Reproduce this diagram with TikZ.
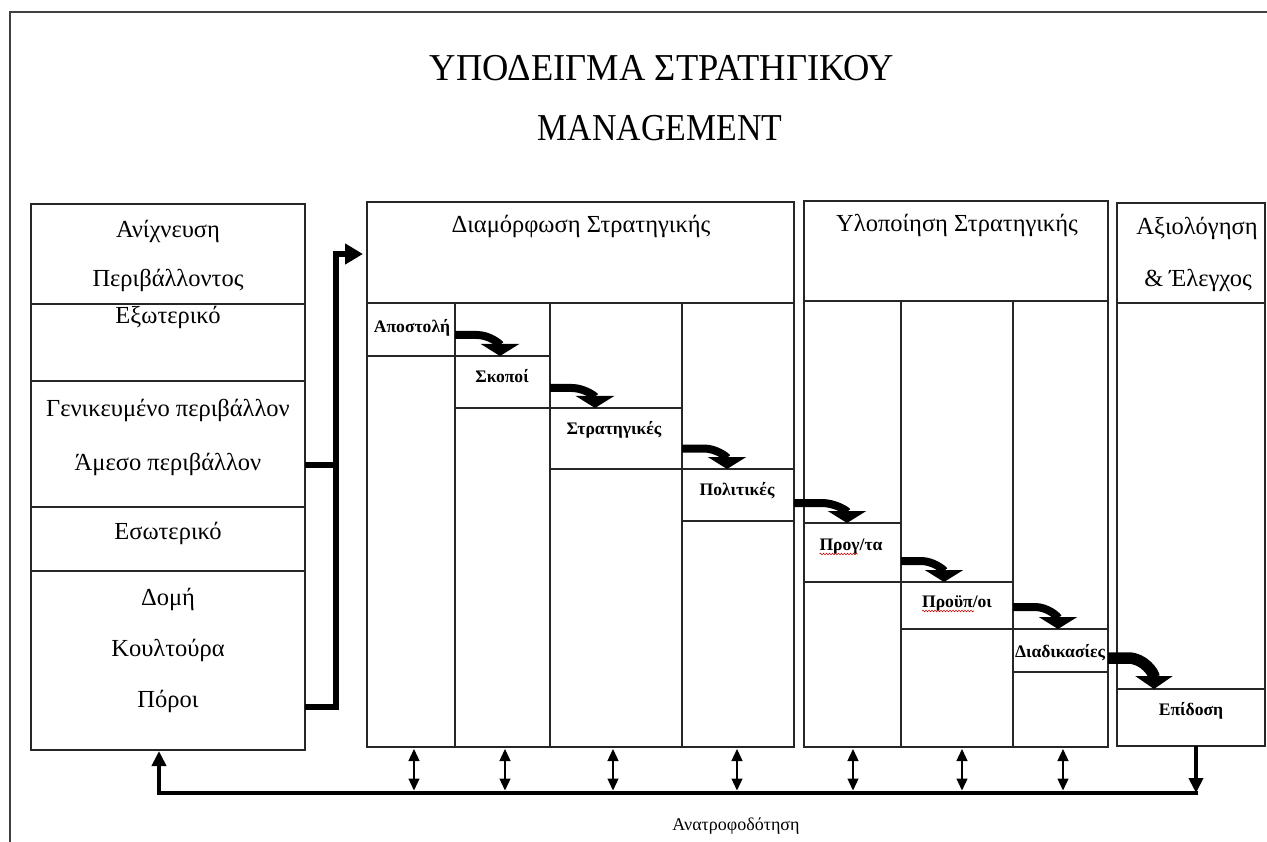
\documentclass[tikz,border=0pt]{standalone}
\usepackage{fontspec}
\setmainfont{Liberation Serif}
\usetikzlibrary{arrows.meta,decorations.pathmorphing,calc}
\newcommand\cellbox[5]{\node[cell,minimum width=#4pt,minimum height=#5pt] (#1) at (#2,#3) {};}
\begin{document}
\begin{tikzpicture}[x=1pt,y=-1pt,
 every node/.style={inner sep=0pt,outer sep=0pt},
 frame/.style={draw=black!75,line width=1.8pt},
 cell/.style={draw=black!85,line width=1.2pt,anchor=north west},
 txt/.style={font=\fontsize{24.5}{29}\selectfont,anchor=base},
 btxt/.style={font=\fontsize{17.6}{21}\selectfont\bfseries,anchor=base},
 ttl/.style={font=\fontsize{38}{44}\selectfont,anchor=center},
 stair/.style={line width=8pt,-{Triangle[width=38pt,length=12pt]}},
 bigstair/.style={line width=11.5pt,-{Triangle[width=37pt,length=13pt]}},
 conn/.style={line width=6pt,line join=miter},
 feed/.style={line width=4.5pt,line join=miter},
 both/.style={line width=1.3pt,{Triangle[width=11pt,length=12pt]}-{Triangle[width=11pt,length=12pt]},shorten <=2pt},
 squig/.style={draw=red!80!black,line width=0.6pt,decorate,decoration={snake,amplitude=0.8pt,segment length=3pt}}]
\useasboundingbox (0,0) rectangle (1267,842);
% outer frame
\draw[frame] (10,842) -- (10,12) -- (1267,12);
% title
\node[ttl] (title1) at (662,68) {\scalebox{0.96}[1]{ΥΠΟΔΕΙΓΜΑ ΣΤΡΑΤΗΓΙΚΟΥ}};
\node[ttl] (title2) at (660,128) {\scalebox{0.89}[1]{MANAGEMENT}};
% left box
\cellbox{L1}{31}{204}{274}{100}
\cellbox{L2}{31}{304}{274}{77}
\cellbox{L3}{31}{381}{274}{126}
\cellbox{L4}{31}{507}{274}{64}
\cellbox{L5}{31}{571}{274}{179}
\node[txt] (anix) at (168,238) {Ανίχνευση};
\node[txt] (peri) at (168,287) {Περιβάλλοντος};
\node[txt] (exot) at (168,324) {Εξωτερικό};
\node[txt] (gen) at (168,416) {Γενικευμένο περιβάλλον};
\node[txt] (amesos) at (168,470) {Άμεσο περιβάλλον};
\node[txt] (esot) at (168,539) {Εσωτερικό};
\node[txt] (domi) at (168,605) {Δομή};
\node[txt] (koul) at (168,656) {Κουλτούρα};
\node[txt] (poroi) at (168,707) {Πόροι};
% formulation box
\cellbox{Dh}{367}{202}{427}{101}
\cellbox{Dc1}{367}{303}{88}{444}
\cellbox{Dc2}{455}{303}{95}{444}
\cellbox{Dc3}{550}{303}{132}{444}
\cellbox{Dc4}{682}{303}{112}{444}
\cellbox{apo}{367}{303}{88}{53}
\cellbox{sko}{455}{356}{95}{52}
\cellbox{stra}{550}{408}{132}{61}
\cellbox{pol}{682}{469}{112}{52}
\node[txt] (diam) at (581,233) {Διαμόρφωση Στρατηγικής};
\node[btxt] (apot) at (412,333) {Αποστολή};
\node[btxt] (skot) at (502,382) {Σκοποί};
\node[btxt] (strt) at (614,435) {Στρατηγικές};
\node[btxt] (polt) at (737,495) {Πολιτικές};
% implementation box
\cellbox{Yh}{804}{201}{304}{100}
\cellbox{Yc1}{804}{301}{97}{446}
\cellbox{Yc2}{901}{301}{112}{446}
\cellbox{Yc3}{1013}{301}{95}{446}
\cellbox{prog}{804}{523}{97}{59}
\cellbox{proup}{901}{582}{112}{47}
\cellbox{diad}{1013}{629}{95}{43}
\node[txt] (ylop) at (957,232) {Υλοποίηση Στρατηγικής};
\node[btxt] (progt) at (851,550) {Προγ/τα};
\node[btxt] (proupt) at (957,607) {Προϋπ/οι};
\node[btxt] (diadt) at (1060,657) {Διαδικασίες};
\draw[squig] ([yshift=-4pt]progt.base west) -- ++(38,0);
\draw[squig] ([yshift=-4pt]proupt.base west) -- ++(52,0);
% evaluation box
\cellbox{Ah}{1117}{203}{148}{100}
\cellbox{Ac}{1117}{303}{148}{443}
\cellbox{epi}{1117}{689}{148}{57}
\node[txt] (axio) at (1197,235) {Αξιολόγηση};
\node[txt] (eleg) at (1198,287) {\& Έλεγχος};
\node[btxt] (epit) at (1191,715) {Επίδοση};
% staircase arrows
\draw[stair] ([yshift=-5.5pt]apo.east) -- ++(22,0) to[out=0,in=90] ([xshift=-2.5pt]sko.north);
\draw[stair] ([yshift=-6pt]sko.east) -- ++(22,0) to[out=0,in=90] ([xshift=-21pt]stra.north);
\draw[stair] ([yshift=-10pt]stra.east) -- ++(22,0) to[out=0,in=90] ([xshift=-11pt]pol.north);
\draw[stair] ([yshift=-8pt]pol.east) -- ++(28,0) to[out=0,in=90] ([xshift=-5.5pt]prog.north);
\draw[stair] ([yshift=-8.5pt]prog.east) -- ++(20,0) to[out=0,in=90] ([xshift=-13pt]proup.north);
\draw[stair] ([yshift=-1.5pt]proup.east) -- ++(22,0) to[out=0,in=90] ([xshift=-2.5pt]diad.north);
\draw[bigstair] ([yshift=-7.5pt]diad.east) -- ++(20,0) to[out=0,in=90] ([xshift=-37pt]epi.north);
% left connector
\coordinate (jTop) at (336,254);
\coordinate (amStart) at ([yshift=-21pt]L3.east);
\coordinate (poStart) at ([yshift=-46.5pt]L5.east);
\draw[conn,-{Triangle[width=20pt,length=18pt]}] (poStart) -| (jTop) -- ([xshift=-4pt,yshift=-52pt]Dh.north west);
\draw[conn] (amStart) -- (jTop |- amStart);
% feedback
\coordinate (fbL) at (159,793);
\coordinate (fbR) at (1196,793);
\draw[feed,-{Triangle[width=14pt,length=15pt]}] ([xshift=5pt]epi.south) -- (fbR);
\draw[feed,-{Triangle[width=14pt,length=15pt]}] ([xshift=2.25pt]fbR) -- (fbL) -- ([xshift=-9pt,yshift=-1pt]L5.south);
\foreach \n/\xx in {1/414,2/505,3/613,4/737,5/853,6/962,7/1063}{
  \coordinate (fb\n) at (\xx,793);
  \draw[both] (fb\n |- Dc1.south) -- ([yshift=2.5pt]fb\n);
}
\node[font=\fontsize{18}{21}\selectfont,anchor=base] (anatr) at (736,830) {Ανατροφοδότηση};
\end{tikzpicture}
\end{document}
